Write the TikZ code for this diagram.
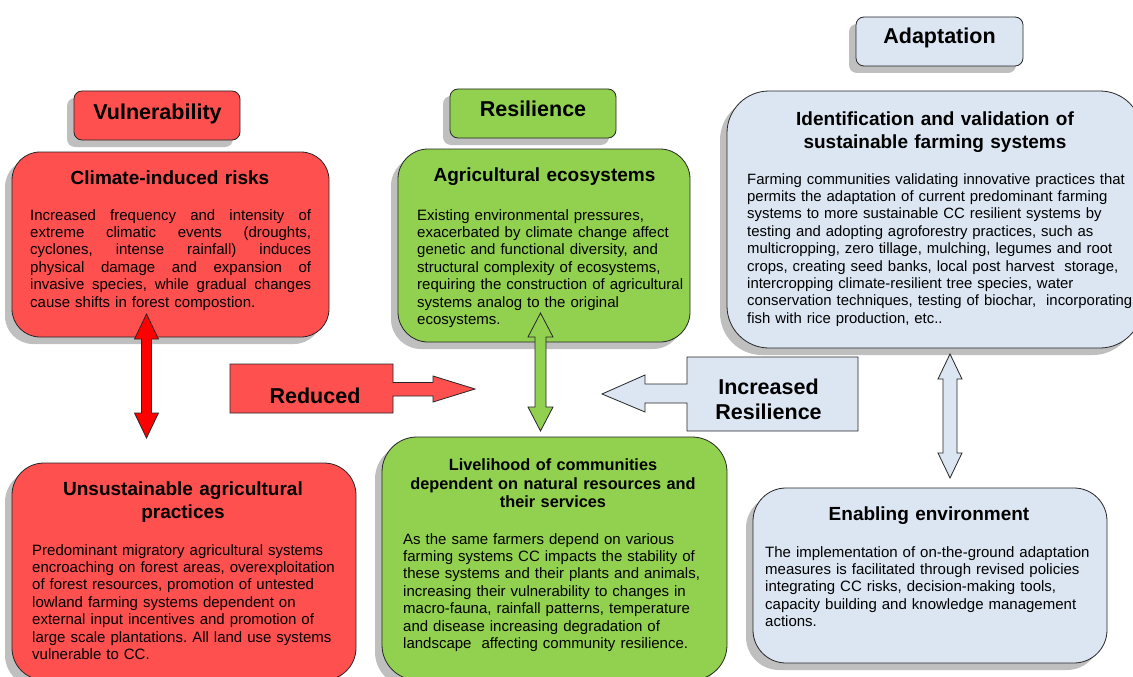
\documentclass[tikz,border=0pt]{standalone}
\usepackage{fontspec}
\setmainfont{Liberation Sans}
\usetikzlibrary{shadows}
\frenchspacing
\definecolor{redfill}{HTML}{FF5050}
\definecolor{greenfill}{HTML}{92D050}
\definecolor{bluefill}{HTML}{DCE6F2}
\definecolor{shadowgray}{HTML}{BFBFBF}
\definecolor{arrowred}{HTML}{FF0000}
\tikzset{
  rbox/.style={draw=black!85, line width=0.8pt, inner sep=0pt, rectangle,
    drop shadow={shadow xshift=-7pt, shadow yshift=-7pt, fill=shadowgray, opacity=1}},
  hdr/.style={rbox, rounded corners=8pt, minimum height=49pt},
  hdrtext/.style={anchor=base, inner sep=0pt, font=\fontsize{21.5}{25}\selectfont\bfseries},
  ttl/.style={anchor=base, inner sep=0pt, text width=380pt, align=center, font=\fontsize{19}{23}\selectfont\bfseries},
  smallttl/.style={anchor=base, inner sep=0pt, text width=380pt, align=center, font=\fontsize{16.3}{18.7}\selectfont\bfseries},
  bodytext/.style={anchor=base west, inner sep=0pt, text width=420pt, align=left, font=\fontsize{15}{17.4}\selectfont},
  blockarrow/.style={draw=black!85, line width=0.8pt, line join=miter},
}
\newcommand\vdarrow[7]{%
  \draw[blockarrow, fill=#1] (#2,#3) -- ({#2+#6},{#3+#7}) -- ({#2+#5},{#3+#7}) -- ({#2+#5},{#4-#7})
    -- ({#2+#6},{#4-#7}) -- (#2,#4) -- ({#2-#6},{#4-#7}) -- ({#2-#5},{#4-#7}) -- ({#2-#5},{#3+#7})
    -- ({#2-#6},{#3+#7}) -- cycle;}
\newcommand\jl[1]{\leavevmode\hbox to 281pt{\spaceskip=0.278em plus 1fill\relax #1}}
\begin{document}
\begin{tikzpicture}[x=1pt,y=-1pt]
\useasboundingbox (0,0) rectangle (1133,677);
% header boxes
\node[hdr, fill=redfill, minimum width=166pt] (vulbox) at (157,115.5) {};
\node[hdr, fill=greenfill, minimum width=166pt] (resbox) at (533,113.5) {};
\node[hdr, fill=bluefill, minimum width=167pt] (adabox) at (939.5,41.5) {};
\node[hdrtext] (vultxt) at (157.5,119) {Vulnerability};
\node[hdrtext] (restxt) at (533,116) {Resilience};
\node[hdrtext] (adatxt) at (939.5,44) {Adaptation};
% main boxes
\node[rbox, fill=redfill, rounded corners=28pt, minimum width=317pt, minimum height=185pt] (climate) at (170.5,244.5) {};
\node[rbox, fill=greenfill, rounded corners=30pt, minimum width=292pt, minimum height=193pt] (agri) at (544,245.5) {};
\node[rbox, fill=bluefill, rounded corners=42pt, minimum width=415pt, minimum height=257pt] (ident) at (934.5,219.5) {};
\node[rbox, fill=redfill, rounded corners=32pt, minimum width=344pt, minimum height=217pt] (unsust) at (184,571.5) {};
\node[rbox, fill=greenfill, rounded corners=35pt, minimum width=345pt, minimum height=243pt] (liveli) at (554.5,558.5) {};
\node[rbox, fill=bluefill, rounded corners=33pt, minimum width=354pt, minimum height=175pt] (enab) at (930,575.5) {};
% titles
\node[ttl] (climatettl) at (170,184) {Climate-induced risks};
\node[ttl] (agrittl) at (544.5,181) {Agricultural ecosystems};
\node[ttl] (identttl) at (935,125) {Identification and validation of\\sustainable farming systems};
\node[ttl] (unsustttl) at (183,495) {Unsustainable agricultural\\practices};
\node[smallttl] (livelittl) at (553,470.5) {Livelihood of communities\\dependent on natural resources and\\their services};
\node[ttl] (enabttl) at (929,520) {Enabling environment};
% body texts
\node[bodytext] (climatebody) at (30,220) {\jl{Increased frequency and intensity of}\\
\jl{extreme climatic events (droughts,}\\
\jl{cyclones, intense rainfall) induces}\\
\jl{physical damage and expansion of}\\
\jl{invasive species, while gradual changes}\\
cause shifts in forest compostion.};
\node[bodytext] (agribody) at (417,220) {Existing environmental pressures,\\
exacerbated by climate change affect\\
genetic and functional diversity, and\\
structural complexity of ecosystems,\\
requiring the construction of agricultural\\
systems analog to the original\\
ecosystems.};
\node[bodytext, font=\fontsize{14.9}{17.4}\selectfont] (identbody) at (747,184) {Farming communities validating innovative practices that\\
permits the adaptation of current predominant farming\\
systems to more sustainable CC resilient systems by\\
testing and adopting agroforestry practices, such as\\
multicropping, zero tillage, mulching, legumes and root\\
crops, creating seed banks, local post harvest\ \ storage,\\
intercropping climate-resilient tree species, water\\
conservation techniques, testing of biochar,\ \ incorporating\\
fish with rice production, etc..};
\node[bodytext] (unsustbody) at (32,555) {Predominant migratory agricultural systems\\
encroaching on forest areas, overexploitation\\
of forest resources, promotion of untested\\
lowland farming systems dependent on\\
external input incentives and promotion of\\
large scale plantations. All land use systems\\
vulnerable to CC.};
\node[bodytext] (intelibody) at (403,544) {As the same farmers depend on various\\
farming systems CC impacts the stability of\\
these systems and their plants and animals,\\
increasing their vulnerability to changes in\\
macro-fauna, rainfall patterns, temperature\\
and disease increasing degradation of\\
landscape\ \ affecting community resilience.};
\node[bodytext] (enabbody) at (765,557) {The implementation of on-the-ground adaptation\\
measures is facilitated through revised policies\\
integrating CC risks, decision-making tools,\\
capacity building and knowledge management\\
actions.};
% vertical double arrows
\vdarrow{arrowred}{146.5}{314}{438}{5}{12}{25}
\vdarrow{greenfill}{540.5}{313}{431}{5.5}{12.5}{24}
\vdarrow{bluefill}{950}{354}{478}{7}{12}{25}
% block arrows
\draw[blockarrow, fill=redfill] (230,364) -- (393,364) -- (393,382.5) -- (433,382.5) -- (433,376)
  -- (475,389) -- (433,402) -- (433,396) -- (393,396) -- (393,413) -- (230,413) -- cycle;
\node[hdrtext] (reduced) at (315,403) {Reduced};
\draw[blockarrow, fill=bluefill] (858,357) -- (687,357) -- (687,384) -- (645,384) -- (645,375)
  -- (602,394) -- (645,412) -- (645,403) -- (687,403) -- (687,431) -- (858,431) -- cycle;
\node[hdrtext, text width=200pt, align=center] (increased) at (768.5,394) {Increased\\Resilience};
\end{tikzpicture}
\end{document}
